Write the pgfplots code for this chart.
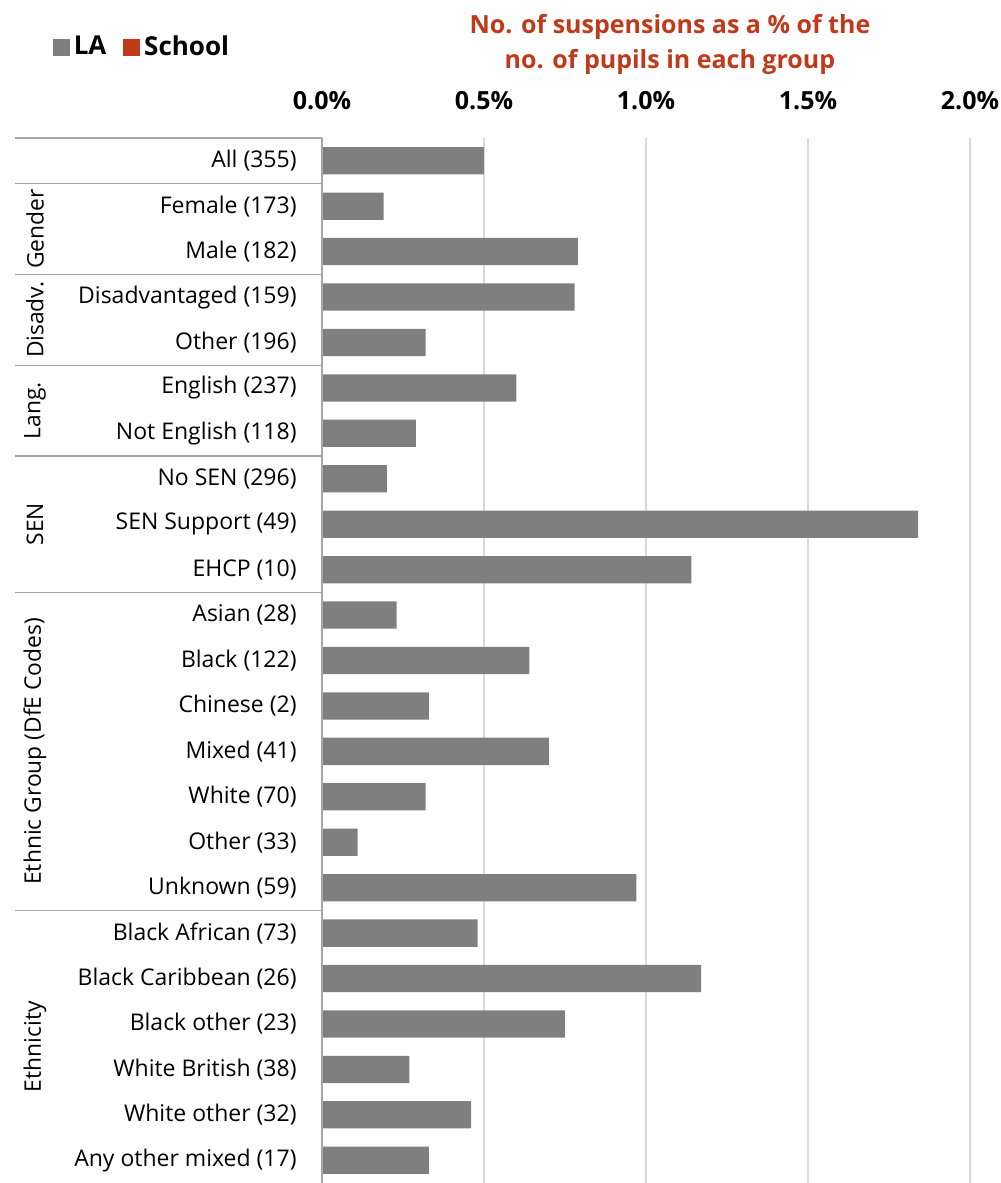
\documentclass[border=0pt]{standalone}
\usepackage{fontspec}
\setmainfont{Open Sans}
\usepackage{pgfplots}
\pgfplotsset{compat=1.18}
\definecolor{barg}{HTML}{7F7F7F}
\definecolor{schoolred}{HTML}{C0391B}
\definecolor{gridg}{HTML}{D9D9D9}
\definecolor{lineg}{HTML}{A6A6A6}
\begin{document}
\begin{tikzpicture}
\begin{axis}[
  at={(0,0)}, anchor=south west,
  scale only axis, width=324pt, height=522.5pt,
  xmin=0, xmax=2, ymin=-0.5, ymax=22.5, y dir=reverse,
  clip=false,
  axis line style={draw=none},
  xticklabel pos=top,
  xtick={0,0.5,1,1.5,2},
  xticklabels={0.0\%,0.5\%,1.0\%,1.5\%,2.0\%},
  xmajorgrids, grid style={gridg, line width=0.6pt},
  major tick length=0pt,
  x tick label style={font=\bfseries\fontsize{12.5}{15}\selectfont, anchor=center, yshift=18.5pt},
  ytick={0,...,22},
  yticklabels={All (355),Female (173),Male (182),Disadvantaged (159),Other (196),English (237),Not English (118),No SEN (296),SEN Support (49),EHCP (10),Asian (28),Black (122),Chinese (2),Mixed (41),White (70),Other (33),Unknown (59),Black African (73),Black Caribbean (26),Black other (23),White British (38),White other (32),Any other mixed (17)},
  y tick label style={font=\fontsize{11.5}{13.5}\selectfont, anchor=east, inner sep=0pt, xshift=-12.5pt},
  legend style={draw=none, fill=none, at={(axis description cs:-0.425,1.087)}, anchor=west,
    font=\bfseries\fontsize{13}{15}\selectfont, legend columns=-1,
    /tikz/every even column/.append style={column sep=6.5pt}},
]
\addplot[xbar, fill=barg, draw=none, bar width=0.6, forget plot] coordinates {
(0.50,0) (0.19,1) (0.79,2) (0.78,3) (0.32,4) (0.60,5) (0.29,6) (0.20,7) (1.84,8) (1.14,9)
(0.23,10) (0.64,11) (0.33,12) (0.70,13) (0.32,14) (0.11,15) (0.97,16)
(0.48,17) (1.17,18) (0.75,19) (0.27,20) (0.46,21) (0.33,22)};
\addlegendimage{legend image code/.code={\fill[barg] (0pt,-4pt) rectangle (8pt,4pt);}}
\addlegendentry{LA}
\addlegendimage{legend image code/.code={\fill[schoolred] (0pt,-4pt) rectangle (8pt,4pt);}}
\addlegendentry{School}
\draw[lineg, line width=0.6pt] (axis cs:0,-0.5) -- (axis cs:0,22.5);
\draw[lineg, line width=0.6pt] ([xshift=-153.5pt]axis cs:0,-0.5) -- (axis cs:0,-0.5);
\draw[lineg, line width=0.6pt] ([xshift=-153.5pt]axis cs:0,0.5) -- (axis cs:0,0.5);
\draw[lineg, line width=0.6pt] ([xshift=-153.5pt]axis cs:0,2.5) -- (axis cs:0,2.5);
\draw[lineg, line width=0.6pt] ([xshift=-153.5pt]axis cs:0,4.5) -- (axis cs:0,4.5);
\draw[lineg, line width=0.6pt] ([xshift=-153.5pt]axis cs:0,6.5) -- (axis cs:0,6.5);
\draw[lineg, line width=0.6pt] ([xshift=-153.5pt]axis cs:0,9.5) -- (axis cs:0,9.5);
\draw[lineg, line width=0.6pt] ([xshift=-153.5pt]axis cs:0,16.5) -- (axis cs:0,16.5);
\node[rotate=90, font=\fontsize{11.4}{13}\selectfont] at ([xshift=-143.5pt]axis cs:0,1.5) {Gender};
\node[rotate=90, font=\fontsize{11.4}{13}\selectfont] at ([xshift=-143.5pt]axis cs:0,3.5) {Disadv.};
\node[rotate=90, font=\fontsize{11.4}{13}\selectfont] at ([xshift=-143.5pt]axis cs:0,5.5) {Lang.};
\node[rotate=90, font=\fontsize{11.4}{13}\selectfont] at ([xshift=-143.5pt]axis cs:0,8) {SEN};
\node[rotate=90, font=\fontsize{11.4}{13}\selectfont] at ([xshift=-143.5pt]axis cs:0,13) {Ethnic Group (DfE Codes)};
\node[rotate=90, font=\fontsize{11.4}{13}\selectfont] at ([xshift=-143.5pt]axis cs:0,19.5) {Ethnicity};
\node[font=\bfseries\fontsize{12.5}{17.5}\selectfont, text=schoolred, align=center]
  at (axis description cs:0.537,1.0895) {No. of suspensions as a \% of the\\no. of pupils in each group};
\end{axis}
\pgfresetboundingbox
\path[use as bounding box] (-161pt,0pt) rectangle (339.5pt,591.5pt);
\end{tikzpicture}
\end{document}
